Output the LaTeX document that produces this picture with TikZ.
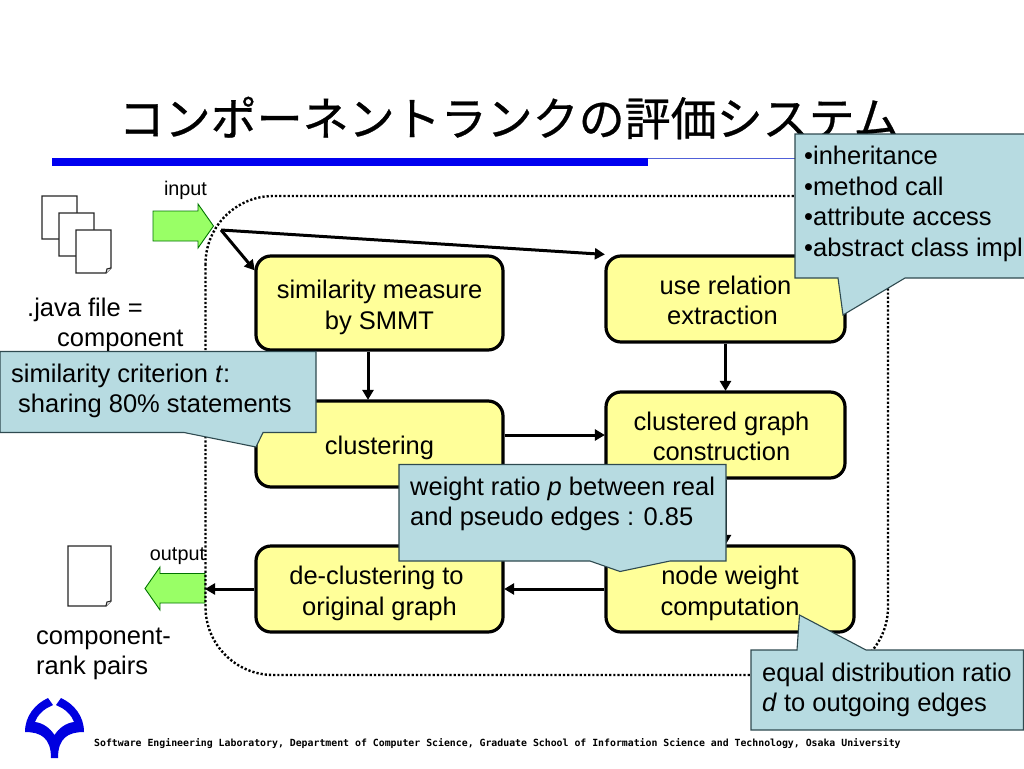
\documentclass[tikz,border=0pt]{standalone}
\usepackage{fontspec}
\setmainfont{Liberation Sans}
\newfontfamily\cjkfont{Noto Sans CJK JP}[FakeBold=0.6]
\newfontfamily\footfont{DejaVu Sans Mono}[BoldFont={DejaVu Sans Mono Bold}]
\usetikzlibrary{arrows.meta}
\definecolor{boxyellow}{HTML}{FFFF99}
\definecolor{notefill}{HTML}{B7DBE1}
\definecolor{noteline}{HTML}{2F4A50}
\definecolor{arrowgreen}{HTML}{99FF66}
\definecolor{barblue}{HTML}{0000F0}
\definecolor{logoblue}{HTML}{0000E0}
\definecolor{thinblue}{HTML}{5060D8}
\newcommand{\lowstrut}{\rule{0pt}{27pt}}
\newcommand{\midstrut}{\rule{0pt}{21pt}}
\tikzset{
  x=1pt,y=-1pt,
  procbox/.style={draw=black,line width=3.2pt,fill=boxyellow,rounded corners=15pt,inner sep=0pt,align=center,
    font=\fontsize{25.5}{30.5}\selectfont},
  flow/.style={draw=black,line width=3pt,-{Triangle[length=10pt,width=11pt]},shorten >=-0.5pt},
  notebg/.style={draw=noteline,line width=1.1pt,fill=notefill},
  notetext/.style={align=left,inner sep=0pt,anchor=west,font=\fontsize{25.5}{30.7}\selectfont},
  plain/.style={align=left,inner sep=0pt,anchor=west,font=\fontsize{25.5}{30.5}\selectfont},
  small/.style={inner sep=0pt,font=\fontsize{19.8}{24}\selectfont},
  bigarrow/.style={draw=black!55!green,line width=0.9pt,fill=arrowgreen},
  sheet/.style={draw=black!85,line width=1.1pt,fill=white},
}
\begin{document}
\begin{tikzpicture}
\useasboundingbox (0,0) rectangle (1024,768);
\fill[white] (0,0) rectangle (1024,768);

% title and rule
\node[inner sep=0pt,font=\cjkfont\fontsize{46}{50}\selectfont] (title) at (509,118) {コンポーネントランクの評価システム};
\fill[thinblue] (648,157.5) rectangle (800,158.8);
\fill[barblue] (52,157.5) rectangle (648,166);

% input documents
\foreach \px/\py in {42/196,59/213,76/230}{
  \draw[sheet] (\px,\py) -- ++(35,0) -- ++(0,38) -- ++(-5,5) -- ++(-30,0) -- cycle;
}
\draw[sheet] (106,273) -- (107,269) -- (111,268);
\draw[sheet] (68,546) -- (111,546) -- (111,601) -- (106,606) -- (68,606) -- cycle;
\draw[sheet] (106,606) -- (107,602) -- (111,601);

% green arrows
\draw[bigarrow] (153,211) -- (198,211) -- (198,204) -- (213.5,226) -- (198,248) -- (198,241) -- (153,241) -- cycle;
\draw[bigarrow] (205,573.5) -- (160,573.5) -- (160,567) -- (145,588.5) -- (160,610) -- (160,603) -- (205,603) -- cycle;
\node[small] (inlabel) at (185.5,190) {input};
\node[small] (outlabel) at (177.5,556.5) {output};

% dotted frame
\draw[black,line width=2.4pt,dash pattern=on 2.2pt off 2pt,rounded corners=68pt] (205.5,196) rectangle (888,675);

% process boxes
\node[procbox,minimum width=247pt,minimum height=94pt] (sim) at (379.5,303) {\lowstrut similarity measure\\by SMMT};
\node[procbox,minimum width=239pt,minimum height=86pt] (use) at (725.5,299) {\midstrut use relation\\extraction\hspace*{6pt}};
\node[procbox,minimum width=247pt,minimum height=86pt] (clu) at (379.5,444) {\lowstrut clustering};
\node[procbox,minimum width=239pt,minimum height=86pt] (cg) at (725.5,435) {\midstrut clustered graph\hspace*{8pt}\\construction\hspace*{8pt}};
\node[procbox,minimum width=247pt,minimum height=86pt] (dc) at (379.5,589) {\lowstrut de-clustering to\hspace*{6pt}\\original graph};
\node[procbox,minimum width=248pt,minimum height=86pt] (nw) at (730,589) {\lowstrut node weight\\computation};

% connectors
\coordinate (entry) at (221,230);
\coordinate (exit) at (205.5,589);
\draw[flow] (entry) -- ([yshift=33pt]sim.west);
\draw[flow] (entry) -- (use.north west);
\draw[flow] ([xshift=-11.5pt]sim.south) -- ([xshift=-11.5pt]clu.north);
\draw[flow] ([yshift=9pt]clu.east) -- (cg.west);
\draw[flow] (use.south) -- (cg.north);
\draw[flow] (cg.south) -- ([xshift=-4.5pt]nw.north);
\draw[flow] (nw.west) -- (dc.east);
\draw[flow] (dc.west) -- (exit);

% plain labels
\node[plain] (javalabel) at (27,325) {.java file =\\\hspace*{30pt}component};
\node[plain] (ranklabel) at (36,654) {component-\\rank pairs};

% callouts
\draw[notebg] (0,351.5) -- (316,351.5) -- (316,432.5) -- (263,432.5) -- (256,447) -- (184,432.5) -- (0,432.5) -- cycle;
\node[notetext] (simnote) at (11,391) {similarity criterion \textit{t}:\\\hspace*{7pt}sharing 80\% statements};

\draw[notebg] (1030,134) -- (795,134) -- (795,278) -- (838,278) -- (843,315) -- (905,278) -- (1030,278);
\node[notetext] (usenote) at (804,204) {•inheritance\\•method call\\•attribute access\\•abstract class impl};

\draw[notebg] (399,464.5) -- (726,464.5) -- (726,561) -- (670,561) -- (620,571.5) -- (590,561) -- (399,561) -- cycle;
\node[notetext] (weightnote) at (410,504) {weight ratio \textit{p} between real\\and pseudo edges : 0.85};

\draw[notebg] (751,650) -- (797,650) -- (799.5,615) -- (866,650) -- (1023.5,650) -- (1023.5,730) -- (751,730) -- cycle;
\node[notetext] (ratenote) at (762,690) {equal distribution ratio\\\textit{d} to outgoing edges};

% logo
\fill[logoblue] (25,732) .. controls (25,716) and (35,704) .. (48,698) -- (53,705) -- (47,708)
  .. controls (42,711) and (37,716) .. (35,722)
  .. controls (43,723) and (50,728) .. (54.5,735)
  .. controls (59,728) and (66,723) .. (74,722)
  .. controls (72,716) and (67,711) .. (62,708) -- (56,705) -- (61,698)
  .. controls (74,704) and (84,716) .. (84,732)
  .. controls (68,732) and (58,738) .. (58,758) -- (51,758)
  .. controls (51,738) and (41,732) .. (25,732) -- cycle;

% footer
\node[anchor=west,inner sep=0pt,font=\footfont\bfseries\fontsize{9.85}{12}\selectfont] (footer) at (94,744)
  {Software Engineering Laboratory, Department of Computer Science, Graduate School of Information Science and Technology, Osaka University};
\end{tikzpicture}
\end{document}
